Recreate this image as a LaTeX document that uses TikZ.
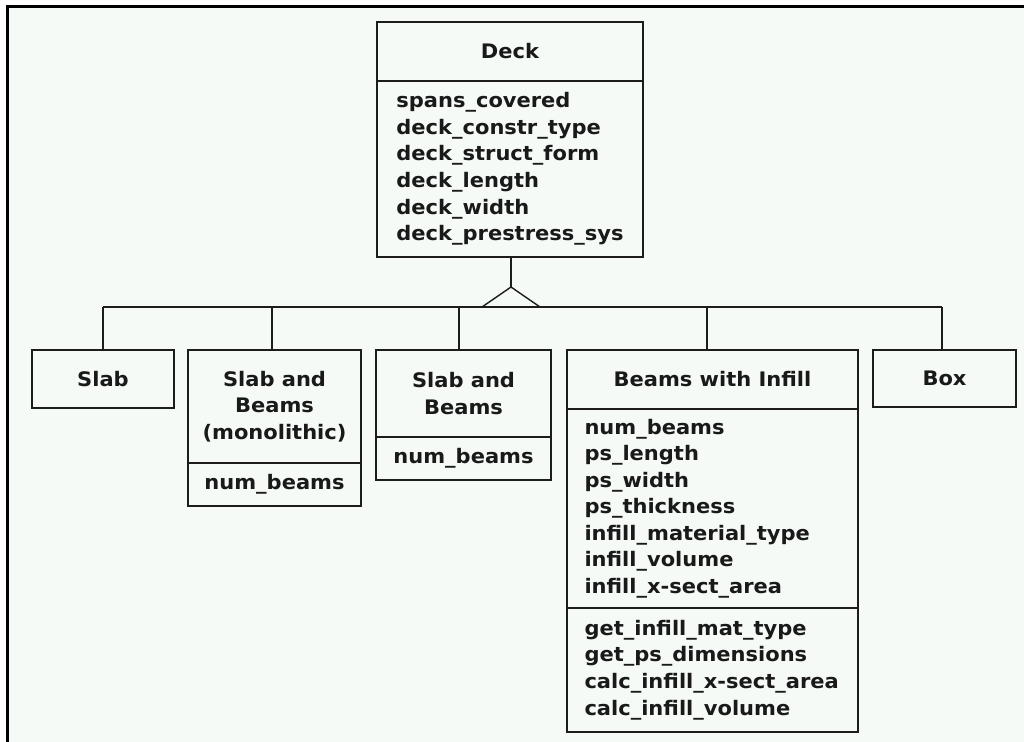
\documentclass[tikz,border=0pt]{standalone}
\usepackage{fontspec}
\newfontfamily\dfont{DejaVu Sans}[FakeStretch=1.05]
\definecolor{bgc}{RGB}{245,250,246}
\definecolor{linec}{RGB}{28,28,28}
\newcommand{\cfont}{\dfont\bfseries\fontsize{15}{19.9}\selectfont}
\begin{document}
\begin{tikzpicture}[x=0.75pt,y=-0.75pt,
  comp/.style={draw=linec, line width=1.15pt, fill=bgc, inner sep=0pt, outer sep=0pt,
    anchor=north west, font=\cfont, text=black!90},
  attr/.style={comp, align=left},
  ttl/.style={comp, align=center},
  conn/.style={draw=linec, line width=1.05pt}]
\useasboundingbox (0,0) rectangle (1024,742);
\fill[white] (0,0) rectangle (1024,742);
\fill[bgc] (6,6) rectangle (1024,742);
\draw[line width=2.25pt, black] (7,742) -- (7,7) -- (1024,7);

% Deck
\node[ttl, minimum width=199.5pt, minimum height=44.25pt] (deckT) at (377,22) {Deck};
\node[attr, minimum width=199.5pt, minimum height=132pt] (deckA) at (deckT.south west)
  {spans\_covered\\deck\_constr\_type\\deck\_struct\_form\\deck\_length\\deck\_width\\deck\_prestress\_sys};

% Slab
\node[ttl, minimum width=106.5pt, minimum height=43.5pt] (slab) at (32,350) {Slab};

% Slab and Beams (monolithic)
\node[ttl, minimum width=129.75pt, minimum height=84.75pt] (monoT) at (188,350) {Slab and\\Beams\\(monolithic)};
\node[attr, minimum width=129.75pt, minimum height=32.25pt] (monoA) at (monoT.south west) {num\_beams};

% Slab and Beams
\node[ttl, minimum width=131.25pt, minimum height=65.25pt] (sbT) at (376,350) {Slab and\\Beams};
\node[attr, minimum width=131.25pt, minimum height=32.25pt] (sbA) at (sbT.south west) {num\_beams};

% Beams with Infill
\node[ttl, minimum width=218.25pt, minimum height=44.25pt] (bwiT) at (567,350) {Beams with Infill};
\node[attr, text width=192pt, minimum width=218.25pt, minimum height=149.25pt] (bwiA) at (bwiT.south west)
  {num\_beams\\ps\_length\\ps\_width\\ps\_thickness\\infill\_material\_type\\infill\_volume\\infill\_x-sect\_area};
\node[attr, text width=192pt, minimum width=218.25pt, minimum height=93pt] (bwiM) at (bwiA.south west)
  {get\_infill\_mat\_type\\get\_ps\_dimensions\\calc\_infill\_x-sect\_area\\calc\_infill\_volume};

% Box
\node[ttl, minimum width=107.25pt, minimum height=42.75pt] (box) at (873,350) {Box};

% Inheritance connectors
\coordinate (apex) at (511,287);
\coordinate (tl) at (482,307);
\coordinate (tr) at (540,307);
\coordinate (j1) at (103,307);
\coordinate (j2) at (272,307);
\coordinate (j3) at (459,307);
\coordinate (j4) at (707,307);
\coordinate (j5) at (942,307);
\draw[conn] (deckA.south -| apex) -- (apex);
\draw[conn] (tl) -- (apex) -- (tr);
\draw[conn] (j1) -- (j5);
\draw[conn] (j1) -- (j1 |- slab.north);
\draw[conn] (j2) -- (j2 |- monoT.north);
\draw[conn] (j3) -- (j3 |- sbT.north);
\draw[conn] (j4) -- (j4 |- bwiT.north);
\draw[conn] (j5) -- (j5 |- box.north);
\end{tikzpicture}
\end{document}
